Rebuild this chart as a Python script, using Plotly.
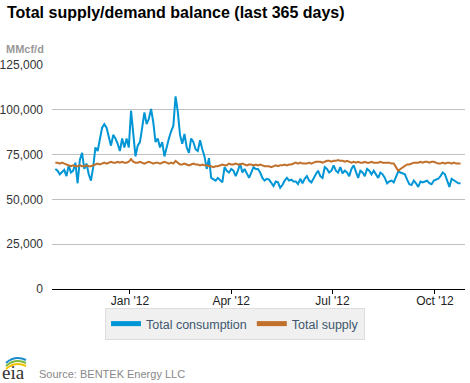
import pandas as pd
import plotly.graph_objects as go

# ---- data (thousand MMcf/d, one value every 2 days) ----
start_date = "2011-10-26"
consumption_k = [
    67, 66, 64, 65, 66.5, 63, 69, 65, 66, 70.5,
    59, 72, 76, 67, 70, 64, 60.5, 68, 79, 77,
    84, 90, 92, 90, 85, 80, 86, 84, 81, 77,
    84, 79, 84, 79, 99.5, 85, 74, 80, 82, 90,
    98.5, 92, 95, 100.5, 93, 82, 84, 79, 82, 74,
    80, 84, 88, 91, 107.5, 99, 86, 81, 86.5, 79,
    76, 84, 82, 78, 77, 83, 78, 74, 67, 73,
    62, 61, 60.5, 62, 60.5, 59.5, 68, 66, 65, 67,
    66, 63, 66, 70, 65, 67, 64.5, 62, 65, 68,
    67, 67, 65, 62, 60.5, 61.5, 61, 59, 57.5, 60,
    59.5, 56.5, 58, 60.5, 62, 60.5, 61, 60, 60, 58.5,
    61.5, 59, 61.5, 63, 60.5, 59.5, 62, 64, 66, 63,
    62, 68, 67, 65, 66, 69, 66, 65, 68, 64.5,
    66, 65, 63, 67, 69, 65, 62, 66, 65, 63,
    67, 66, 64, 66, 64, 62, 65, 64, 62, 59,
    60, 60.5, 59.5, 63, 65.5, 65, 64.5, 64, 61, 58.5,
    58, 60.5, 59, 57, 60, 59.5, 60, 60.5, 59, 58.5,
    60.5, 61, 61.5, 63, 65, 64, 60, 57, 61.5, 60.5,
    60, 59, 59,
]
supply_k = [
    70.5, 70.5, 70, 70.5, 70,
    69.5, 69, 68.5, 69, 68.5,
    68.5, 69, 68.5, 68.5, 69, 68.5, 68.5,
    69, 69.5, 70, 69.5, 70, 70.5, 70,
    70.5, 71, 70.5, 70.5, 71, 70.5, 71, 70.5, 70.5, 71,
    72.5, 71, 70.5,
    70.5, 71, 70.5, 70, 70.5, 71, 70.5, 70, 70.5, 70.5, 70, 70.5, 71, 70.5, 70, 70.5, 70,
    71.5, 70.5, 69.5,
    69.5, 70, 69.5, 69, 69.5, 70, 69.5, 69.5, 69, 69.5, 69,
    69, 68.5, 68.5, 68, 68.5, 68.5, 69, 69.5, 69, 69, 70, 69.5,
    69.5, 70, 69.5, 69.5, 70, 69.5, 69, 69.5, 69.5, 69, 69.5, 69, 69.5, 69,
    68.5, 68.5, 68.5, 68, 68.5, 69, 68.5, 69, 69, 69.5, 69, 69.5, 69.5,
    70, 70.5, 70, 70.5, 70, 70, 70, 70.5, 70, 70.5, 71, 71, 71,
    70.5, 71, 71.5, 71.5, 71, 71.5, 71.5, 72, 71.5, 71.5, 71, 71.5, 71,
    70.5, 71, 70.5, 71, 70.5, 70.5, 71, 70.5, 70.5, 71, 70.5, 70.5, 70.5, 71, 70.5, 70.5, 70.5, 70.5, 70, 70,
    68, 66, 67, 68, 69,
    69.5, 69.5, 70, 70.5, 70.5, 70.5, 71, 70.5, 71, 71, 70.5, 71,
    71, 70.5, 70, 70, 70.5, 70, 70.5, 70.5, 70, 70.5, 70, 70, 70,
]
tick_dates = ["2012-01-01", "2012-04-01", "2012-07-01", "2012-10-01"]
tick_labels = ["Jan '12", "Apr '12", "Jul '12", "Oct '12"]
y_ticks = [0, 25000, 50000, 75000, 100000, 125000]

dates = pd.date_range(start_date, periods=len(consumption_k), freq="2D")
consumption = [v * 1000 for v in consumption_k]
supply = [v * 1000 for v in supply_k]

W, H = 470, 383
L, R, T, B = 52, 5, 65, 94
PW, PH = W - L - R, H - T - B


def px(x):
    return (x - L) / PW


def py(y):
    return (H - B - y) / PH


fig = go.Figure()
fig.add_trace(go.Scatter(x=dates, y=consumption, mode="lines", name="Total consumption",
                         line=dict(color="#0096D6", width=2)))
fig.add_trace(go.Scatter(x=dates, y=supply, mode="lines", name="Total supply",
                         line=dict(color="#C0702B", width=2)))

FONT = "Liberation Sans, Arial, sans-serif"

fig.update_layout(
    width=W, height=H,
    margin=dict(l=L, r=R, t=T, b=B, pad=0, autoexpand=False),
    paper_bgcolor="white", plot_bgcolor="white",
    font=dict(family=FONT, size=12, color="#333333"),
    showlegend=True,
    legend=dict(orientation="h", x=px(235), xanchor="center", y=py(324), yanchor="middle",
                bgcolor="#F0F0F0", bordercolor="#DDDDDD", borderwidth=1,
                font=dict(family=FONT, size=12.5, color="#3E576F"),
                itemwidth=30, tracegroupgap=0, itemsizing="constant"),
    xaxis=dict(type="date", range=["2011-10-23", "2012-10-28"], automargin=False,
               tickvals=tick_dates, ticktext=tick_labels,
               ticks="outside", ticklen=4, tickcolor="#000000", tickwidth=1,
               showline=True, linecolor="#000000", linewidth=1,
               showgrid=False, zeroline=False, ticklabelstandoff=-3,
               tickfont=dict(family=FONT, size=12, color="#222222")),
    yaxis=dict(range=[0, 125000], tickvals=y_ticks, tickformat=",", automargin=False,
               showgrid=True, gridcolor="#C0C0C0", gridwidth=1,
               zeroline=False, showline=False, ticks="",
               ticklabelstandoff=8,
               tickfont=dict(family=FONT, size=12, color="#333333")),
)

fig.add_annotation(text="<b>Total supply/demand balance (last 365 days)</b>",
                   xref="paper", yref="paper", x=px(5), y=py(12),
                   xanchor="left", yanchor="middle", showarrow=False,
                   font=dict(family=FONT, size=16, color="#000000"))
fig.add_annotation(text="<b>MMcf/d</b>",
                   xref="paper", yref="paper", x=px(4), y=py(49),
                   xanchor="left", yanchor="middle", showarrow=False,
                   font=dict(family=FONT, size=11, color="#999999"))
fig.add_annotation(text="Source: BENTEK Energy LLC",
                   xref="paper", yref="paper", x=px(37), y=py(374),
                   xanchor="left", yanchor="middle", showarrow=False,
                   font=dict(family=FONT, size=11, color="#888888"))
# eia logo text
fig.add_annotation(text="eia",
                   xref="paper", yref="paper", x=px(0), y=py(372),
                   xanchor="left", yanchor="middle", showarrow=False,
                   font=dict(family="Liberation Serif, DejaVu Serif, serif", size=19, color="#333333"))
# logo arcs
arcs = [("#F2C200", 365), ("#7DB83A", 362), ("#1B8BC9", 359)]
for color, yy in arcs:
    fig.add_shape(type="path", xref="paper", yref="paper",
                  path=f"M {px(6)} {py(yy+4)} Q {px(15)} {py(yy-4)} {px(26)} {py(yy+1)}",
                  line=dict(color=color, width=2))

fig.write_html("out.html", config={"displayModeBar": False},
               post_script="document.body.style.margin='0';")
